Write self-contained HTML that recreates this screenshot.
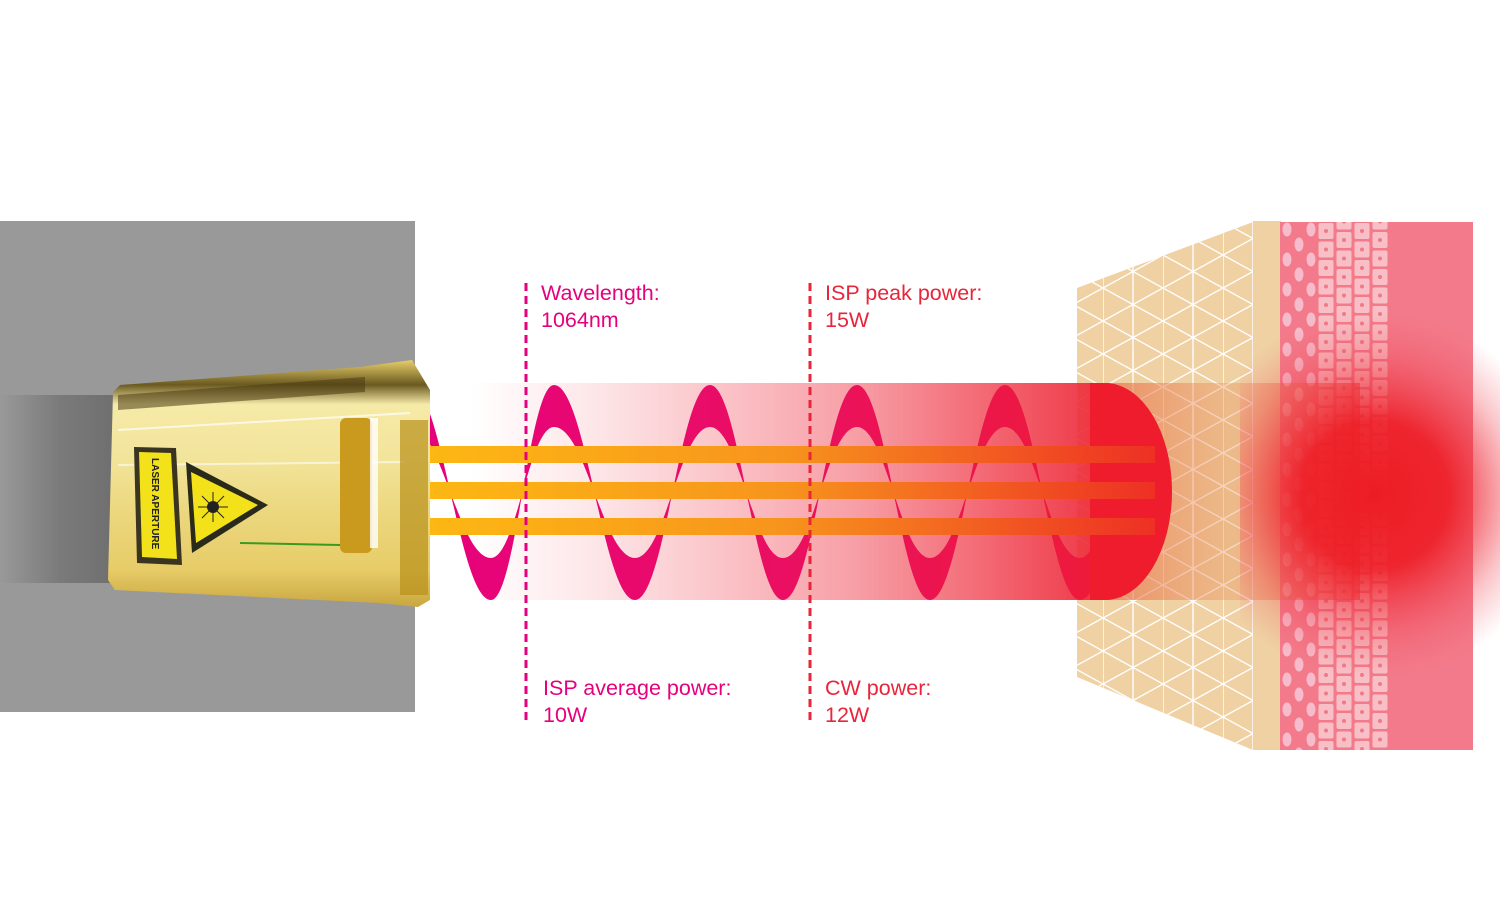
<!DOCTYPE html>
<html><head><meta charset="utf-8"><style>
html,body{margin:0;padding:0;background:#fff}
svg{display:block}
text{font-family:"Liberation Sans",sans-serif;font-size:21.5px}
</style></head><body>
<svg width="1500" height="900" viewBox="0 0 1500 900" xmlns="http://www.w3.org/2000/svg">
<defs>
<linearGradient id="beam" x1="470" y1="0" x2="1110" y2="0" gradientUnits="userSpaceOnUse">
<stop offset="0" stop-color="#ee2a3a" stop-opacity="0"/>
<stop offset="0.2" stop-color="#ee2a3a" stop-opacity="0.12"/>
<stop offset="0.6" stop-color="#ee2a3a" stop-opacity="0.45"/>
<stop offset="1" stop-color="#ee2a3a" stop-opacity="0.95"/>
</linearGradient>
<linearGradient id="beam2" x1="1105" y1="0" x2="1360" y2="0" gradientUnits="userSpaceOnUse">
<stop offset="0" stop-color="#e8704a" stop-opacity="0.7"/>
<stop offset="0.5" stop-color="#e8905a" stop-opacity="0.35"/>
<stop offset="1" stop-color="#ee3a3a" stop-opacity="0.6"/>
</linearGradient>
<linearGradient id="wave" x1="410" y1="0" x2="1150" y2="0" gradientUnits="userSpaceOnUse">
<stop offset="0" stop-color="#e6007e"/>
<stop offset="0.5" stop-color="#ea0f62"/>
<stop offset="1" stop-color="#ee1c34"/>
</linearGradient>
<linearGradient id="yb" x1="415" y1="0" x2="1150" y2="0" gradientUnits="userSpaceOnUse">
<stop offset="0" stop-color="#fdb913"/>
<stop offset="0.5" stop-color="#f7941d"/>
<stop offset="1" stop-color="#ee3124"/>
</linearGradient>
<radialGradient id="glow" cx="1375" cy="495" r="185" gradientUnits="userSpaceOnUse">
<stop offset="0" stop-color="#ed1c24" stop-opacity="1"/>
<stop offset="0.4" stop-color="#ed1c24" stop-opacity="0.9"/>
<stop offset="0.75" stop-color="#ef3a48" stop-opacity="0.3"/>
<stop offset="1" stop-color="#f06070" stop-opacity="0"/>
</radialGradient>
<linearGradient id="gold" x1="0" y1="360" x2="0" y2="607" gradientUnits="userSpaceOnUse">
<stop offset="0" stop-color="#e8cf6a"/>
<stop offset="0.1" stop-color="#6b5a20"/>
<stop offset="0.18" stop-color="#f6eaa8"/>
<stop offset="0.4" stop-color="#f2e49a"/>
<stop offset="0.6" stop-color="#ecd880"/>
<stop offset="0.85" stop-color="#e7cc68"/>
<stop offset="1" stop-color="#c9a640"/>
</linearGradient>
<linearGradient id="shadow" x1="0" y1="0" x2="120" y2="0" gradientUnits="userSpaceOnUse">
<stop offset="0" stop-color="#999" />
<stop offset="0.5" stop-color="#7a7a7a"/>
<stop offset="1" stop-color="#6e6e6e"/>
</linearGradient>
<pattern id="tri" width="60" height="33" patternUnits="userSpaceOnUse" x="1103" y="222">
<g stroke="#fff" stroke-width="1.4" fill="none">
<line x1="0" y1="0" x2="0" y2="33"/><line x1="30" y1="0" x2="30" y2="33"/>
<line x1="0" y1="0" x2="60" y2="33"/><line x1="0" y1="33" x2="60" y2="0"/>
</g></pattern>
<pattern id="ov" width="24" height="30" patternUnits="userSpaceOnUse" x="1281" y="222">
<ellipse cx="6" cy="7.5" rx="4.5" ry="7" fill="#f6bccb"/>
<ellipse cx="18" cy="22.5" rx="4.5" ry="7" fill="#f6bccb"/>
<ellipse cx="18" cy="-7.5" rx="4.5" ry="7" fill="#f6bccb"/>
<ellipse cx="6" cy="37.5" rx="4.5" ry="7" fill="#f6bccb"/>
</pattern>
<pattern id="sq" width="36" height="37" patternUnits="userSpaceOnUse" x="1318" y="222">
<g fill="#f8c0c6">
<rect x="0.5" y="1" width="15" height="16" rx="2"/>
<rect x="0.5" y="19.5" width="15" height="16" rx="2"/>
<rect x="18.5" y="10" width="15" height="16" rx="2"/>
<rect x="18.5" y="28.5" width="15" height="16" rx="2"/>
<rect x="18.5" y="-8.5" width="15" height="16" rx="2"/>
</g>
<g fill="#f07a88">
<circle cx="8" cy="9" r="2"/><circle cx="8" cy="27.5" r="2"/>
<circle cx="26" cy="18" r="2"/><circle cx="26" cy="36.5" r="2"/><circle cx="26" cy="-0.5" r="2"/>
</g>
</pattern>
<clipPath id="trap"><polygon points="1077,288 1253,222 1253,750 1077,677"/></clipPath>
<clipPath id="glowclip"><rect x="1240" y="222" width="260" height="528"/></clipPath>
</defs>

<!-- tissue -->
<polygon points="1077,288 1253,222 1253,750 1077,677" fill="#efd1a3"/>
<rect x="1077" y="222" width="176" height="530" fill="url(#tri)" clip-path="url(#trap)"/>
<rect x="1253" y="221" width="28" height="529" fill="#efd1a3"/>
<rect x="1280" y="222" width="193" height="528" fill="#f37a8a"/>
<rect x="1281" y="222" width="36" height="528" fill="url(#ov)"/>
<rect x="1318" y="222" width="71" height="528" fill="url(#sq)"/>

<!-- beam -->
<rect x="470" y="383" width="640" height="217" fill="url(#beam)"/>
<rect x="1105" y="383" width="255" height="217" fill="url(#beam2)"/>
<circle cx="1375" cy="495" r="185" fill="url(#glow)" clip-path="url(#glowclip)"/>

<!-- gray block & head -->
<rect x="0" y="221" width="415" height="491" fill="#999"/>
<rect x="0" y="395" width="130" height="188" fill="url(#shadow)"/>

<!-- wave -->
<path fill="url(#wave)" d="M410,385 C442,385 459,600 491,600 C516,600 529,385 554,385 C586,385 603,600 635,600 C665,600 680,385 710,385 C739,385 754,600 783,600 C813,600 827,385 857,385 C886,385 901,600 930,600 C960,600 975,385 1005,385 C1035,385 1050,600 1080,600 C1100,600 1112,520 1120,470 L1112,470 C1104,520 1094,558 1080,558 C1050,558 1035,427 1005,427 C975,427 960,558 930,558 C901,558 886,427 857,427 C827,427 813,558 783,558 C754,558 739,427 710,427 C680,427 665,558 635,558 C603,558 586,427 554,427 C529,427 516,558 491,558 C459,558 442,427 410,427 Z"/>
<path d="M1105,383 A67,108.5 0 0 1 1105,600 L1090,600 L1090,383 Z" fill="#ee1c2d"/>

<!-- yellow bars -->
<rect x="415" y="446" width="740" height="17" fill="url(#yb)"/>
<rect x="415" y="482" width="740" height="17" fill="url(#yb)"/>
<rect x="415" y="518" width="740" height="17" fill="url(#yb)"/>

<!-- gold head -->
<polygon points="113,392 120,385 360,367 412,360 430,390 430,600 418,607 380,603 115,590 108,580" fill="url(#gold)"/>
<polygon points="118,395 365,377 365,392 118,410" fill="#4a3a12" opacity="0.55"/>
<line x1="118" y1="430" x2="410" y2="413" stroke="#fff" stroke-width="2" opacity="0.7"/>
<line x1="118" y1="465" x2="405" y2="462" stroke="#fff" stroke-width="2" opacity="0.6"/>
<rect x="340" y="418" width="32" height="135" rx="6" fill="#c99a1e"/>
<rect x="370" y="418" width="8" height="130" fill="#fff" opacity="0.8"/>
<rect x="400" y="420" width="28" height="175" fill="#b8901a" opacity="0.7"/>
<line x1="240" y1="543" x2="340" y2="545" stroke="#3a9a20" stroke-width="2"/>
<polygon points="134,447 176,448 182,565 137,563" fill="#3a3520"/>
<polygon points="139,452 171,453 177,559 142,557" fill="#f3e21a"/>
<text x="0" y="0" transform="translate(152,458) rotate(90)" style="font-size:10px;font-weight:bold" fill="#222">LASER APERTURE</text>
<polygon points="186,462 268,505 192,553" fill="#2a2a1a"/>
<polygon points="191,472 258,505 196,543" fill="#f3e21a"/>
<circle cx="213" cy="507" r="6" fill="#222"/>
<g stroke="#222" stroke-width="1"><line x1="198" y1="507" x2="228" y2="507"/><line x1="213" y1="492" x2="213" y2="522"/><line x1="202" y1="496" x2="224" y2="518"/><line x1="224" y1="496" x2="202" y2="518"/></g>

<!-- dashed lines -->
<line x1="526" y1="283" x2="526" y2="722" stroke="#e6007e" stroke-width="3" stroke-dasharray="8,5"/>
<line x1="810" y1="283" x2="810" y2="722" stroke="#e8253a" stroke-width="3" stroke-dasharray="8,5"/>

<!-- labels -->
<text x="541" y="300" fill="#e6007e">Wavelength:</text>
<text x="541" y="327" fill="#e6007e">1064nm</text>
<text x="825" y="300" fill="#e8253a">ISP peak power:</text>
<text x="825" y="327" fill="#e8253a">15W</text>
<text x="543" y="695" fill="#e6007e">ISP average power:</text>
<text x="543" y="722" fill="#e6007e">10W</text>
<text x="825" y="695" fill="#e8253a">CW power:</text>
<text x="825" y="722" fill="#e8253a">12W</text>
</svg>
</body></html>
